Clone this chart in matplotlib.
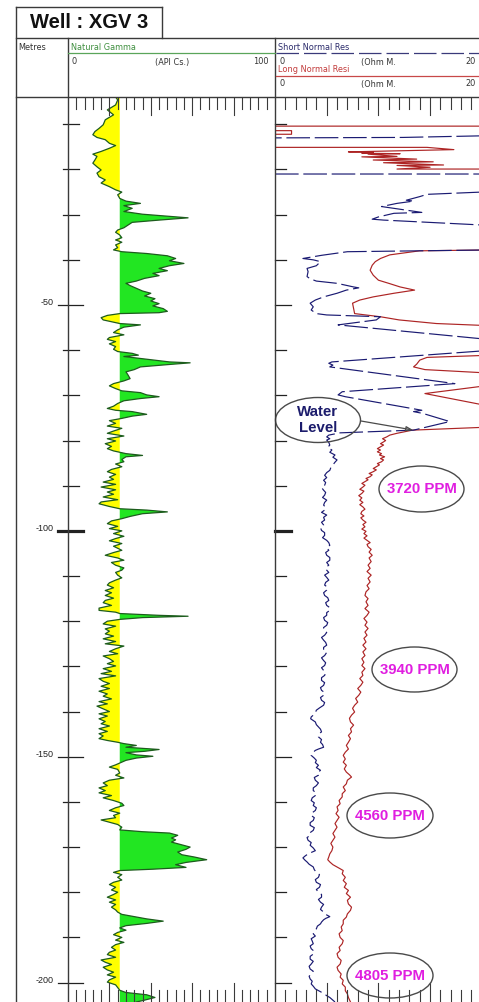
import numpy as np
import matplotlib
matplotlib.use("Agg")
import matplotlib.pyplot as plt
from matplotlib.patches import Ellipse, Rectangle
from matplotlib.lines import Line2D
import matplotlib.transforms as mtransforms
from matplotlib import font_manager

nan = float("nan")

# ---------------------------------------------------------------- data
title = "Well : XGV 3"
depth_unit = "Metres"
gamma_name = "Natural Gamma"
gamma_unit = "(API Cs.)"
gamma_scale = (0, 100)
gamma_cutoff = 25
sn_name = "Short Normal Res"
ln_name = "Long Normal Resi"
res_unit = "(Ohm M."
res_scale = (0, 20)
depth_labels = [-50, -100, -150, -200]
annotation_texts = ["Water\nLevel", "3720 PPM", "3940 PPM", "4560 PPM", "4805 PPM"]

gamma_depth = [
    -3.95, -4.6, -5.7, -6.8, -7.9, -9.0, -10.1, -10.9, -11.6, -12.3,
    -12.9, -13.4, -14.2, -14.7, -15.3, -16.0, -16.6, -17.1, -17.9, -18.6,
    -19.4, -20.1, -20.8, -21.6, -22.3, -23.0, -23.8, -24.5, -25.0, -25.6,
    -26.4, -27.0, -27.5, -28.0, -28.6, -29.3, -29.9, -30.7, -31.2, -31.7,
    -32.3, -32.9, -33.4, -33.9, -34.5, -35.1, -35.6, -36.1, -36.7, -37.3,
    -37.8, -38.2, -38.6, -39.1, -39.7, -40.2, -40.8, -41.3, -41.9, -42.4,
    -43.0, -43.5, -44.1, -44.7, -45.2, -45.7, -46.3, -46.9, -47.4, -48.0,
    -48.6, -49.1, -49.7, -50.2, -50.8, -51.4, -51.7, -51.9, -52.3, -52.8,
    -53.3, -54.1, -54.4, -54.9, -55.5, -56.1, -56.6, -57.2, -57.6, -58.1,
    -58.6, -59.2, -59.8, -60.3, -60.7, -61.1, -61.4, -62.0, -62.6, -62.8,
    -63.2, -63.7, -64.3, -64.8, -65.5, -66.3, -66.8, -67.4, -67.9, -68.5,
    -69.0, -69.4, -69.9, -70.3, -70.7, -71.2, -71.8, -72.4, -72.9, -73.3,
    -73.6, -74.2, -74.6, -75.1, -75.6, -76.2, -76.8, -77.3, -77.9, -78.4,
    -79.0, -79.6, -80.1, -80.7, -81.3, -81.8, -82.3, -82.9, -83.3, -83.6,
    -84.2, -84.7, -85.2, -85.8, -86.4, -86.9, -87.5, -88.1, -88.6, -89.2,
    -89.7, -90.3, -90.9, -91.4, -91.9, -92.5, -93.1, -93.6, -94.0, -94.6,
    -95.1, -95.4, -95.8, -96.2, -96.8, -97.3, -97.8, -98.4, -99.0, -99.5,
    -100.0, -100.6, -101.2, -101.7, -102.2, -102.8, -103.4, -104.3, -104.8, -105.4,
    -106.0, -106.5, -107.0, -107.6, -108.2, -108.7, -109.2, -109.8, -110.4, -110.9,
    -111.5, -112.0, -112.6, -113.2, -113.7, -114.3, -114.9, -115.4, -115.9, -116.5,
    -117.1, -117.6, -118.0, -118.3, -118.7, -118.9, -119.2, -119.6, -120.0, -120.6,
    -121.1, -121.7, -122.2, -122.8, -123.3, -123.9, -124.5, -125.0, -125.5, -126.1,
    -126.7, -127.2, -127.7, -128.3, -128.9, -129.4, -129.9, -130.5, -131.1, -131.6,
    -132.1, -132.7, -133.3, -133.8, -134.4, -134.9, -135.5, -136.1, -136.6, -137.2,
    -137.8, -138.3, -138.8, -139.4, -140.0, -140.5, -141.0, -141.6, -142.2, -142.7,
    -143.2, -143.8, -144.4, -144.9, -145.4, -146.0, -146.4, -146.8, -147.1, -147.5,
    -147.9, -148.4, -148.8, -149.1, -149.6, -149.9, -150.3, -150.8, -151.4, -151.8,
    -152.3, -152.8, -153.6, -154.1, -154.7, -155.2, -155.8, -156.4, -156.9, -157.5,
    -158.0, -158.6, -159.1, -159.7, -160.3, -160.8, -161.3, -161.9, -162.5, -163.0,
    -163.5, -164.0, -164.5, -165.0, -165.6, -166.2, -166.6, -166.9, -167.4, -168.0,
    -168.4, -168.9, -169.4, -170.0, -170.5, -171.1, -171.7, -172.2, -172.8, -173.4,
    -173.9, -174.5, -174.9, -175.2, -175.6, -176.1, -176.7, -177.3, -177.8, -178.3,
    -178.9, -179.5, -180.0, -180.5, -181.1, -181.7, -182.2, -182.7, -183.3, -183.9,
    -184.4, -184.9, -185.4, -185.9, -186.4, -186.9, -187.4, -187.9, -188.4, -188.9,
    -189.4, -190.0, -190.6, -191.1, -191.6, -192.2, -192.8, -193.3, -193.8, -194.4,
    -195.0, -195.5, -196.0, -196.6, -197.2, -197.7, -198.3, -198.8, -199.4, -199.9,
    -200.5, -201.1, -201.7, -202.2, -202.7, -203.3, -204.0, -204.3,
]
gamma_api = [
    23, 24, 23, 19, 22, 18, 17, 15, 13, 12,
    14, 18, 20, 23, 20, 16, 12, 14, 13, 12,
    14, 16, 14, 15, 18, 16, 20, 23, 26, 24,
    25, 28, 35, 27, 31, 27, 36, 58, 44, 31,
    29, 27, 24, 23, 25, 26, 23, 26, 23, 24,
    22, 26, 38, 48, 52, 49, 56, 49, 44, 48,
    41, 44, 37, 33, 28, 30, 33, 36, 40, 37,
    42, 40, 44, 41, 46, 48, 44, 25, 19, 16,
    17, 25, 35, 27, 24, 22, 27, 20, 19, 23,
    20, 23, 22, 24, 31, 34, 27, 38, 49, 59,
    48, 35, 32, 28, 29, 30, 27, 22, 20, 23,
    26, 35, 38, 44, 35, 27, 24, 22, 19, 23,
    31, 38, 31, 26, 20, 23, 19, 26, 22, 19,
    27, 19, 23, 18, 21, 19, 22, 28, 36, 28,
    26, 27, 23, 26, 21, 19, 23, 20, 22, 17,
    23, 16, 23, 19, 22, 17, 24, 16, 15, 20,
    25, 38, 48, 36, 30, 26, 21, 19, 24, 20,
    26, 22, 27, 23, 20, 26, 22, 26, 22, 18,
    24, 27, 21, 23, 27, 26, 23, 24, 26, 23,
    20, 19, 22, 18, 21, 18, 22, 18, 17, 21,
    15, 15, 23, 25, 44, 58, 36, 25, 19, 17,
    23, 18, 20, 18, 22, 17, 23, 18, 27, 23,
    20, 24, 17, 20, 22, 19, 23, 17, 21, 16,
    23, 15, 17, 20, 16, 20, 15, 19, 17, 21,
    15, 19, 14, 17, 20, 15, 19, 15, 18, 16,
    20, 15, 19, 15, 17, 15, 19, 24, 27, 33,
    28, 44, 37, 28, 33, 41, 33, 28, 25, 23,
    20, 24, 25, 23, 27, 20, 17, 19, 15, 18,
    15, 21, 17, 22, 26, 27, 23, 20, 25, 22,
    23, 16, 20, 24, 26, 25, 36, 49, 53, 50,
    52, 50, 54, 59, 57, 53, 55, 61, 67, 57,
    52, 57, 41, 25, 22, 26, 24, 26, 22, 20,
    23, 21, 24, 22, 19, 23, 20, 23, 21, 23,
    24, 26, 32, 38, 46, 38, 28, 25, 28, 24,
    22, 26, 23, 27, 23, 21, 23, 20, 19, 23,
    16, 18, 21, 17, 19, 22, 19, 23, 20, 19,
    23, 24, 25, 28, 38, 42, 36, 33,
]

# Long normal resistivity (red); nan = gap, values > 20 run off the track
ln_depth = [
    -10.4, -10.4, nan,
    -11.4, -11.4, -12.2, -12.2, nan,
    -15.1, -15.1, -15.6, -16.1, -16.2, -16.4, -16.5, -16.6, -17.1, -17.2,
    -17.7, -17.9, -18.3, -18.5, -19.0, -19.1, -19.5, -19.9, -19.9, nan,
    -37.8, -38.0, -38.9, -39.7, -40.4, -41.2, -42.3, -43.4, -44.5, -45.2,
    -46.0, -46.7, -47.4, -48.2, -48.9, -49.6, -50.7, -51.9, -52.6, -53.3,
    -54.1, -54.6, nan,
    -61.1, -61.6, -62.2, -63.1, -63.7, -64.3, -65.1, nan,
    -67.7, -69.6, -72.5, nan,
    -77.0, -77.7,
    -78.4, -78.8, -79.2, -79.6, -80.0, -80.3, -80.7, -81.0, -81.4, -81.8,
    -82.1, -82.5, -82.9, -83.2, -83.6, -84.0, -84.3, -84.7, -85.1, -85.4,
    -85.8, -86.2, -86.5, -86.9, -87.3, -87.6, -88.0, -88.4, -88.7, -89.1,
    -89.5, -89.9, -90.3, -90.8, -91.2, -91.7, -92.2, -92.7, -93.2, -93.7,
    -94.2, -94.7, -95.2, -95.7, -96.2, -96.7, -97.1, -97.6, -98.1, -98.6,
    -99.1, -99.6, -100.1, -100.6, -101.1, -101.6, -102.1, -102.6, -103.0, -103.5,
    -104.1, -104.7, -105.4, -106.0, -106.8, -107.6, -108.3, -109.0, -109.8, -110.5,
    -111.3, -112.1, -112.8, -113.5, -114.3, -115.0, -115.7, -116.5, -117.2, -118.0,
    -118.7, -119.4, -120.2, -120.9, -121.6, -122.4, -123.1, -123.8, -124.6, -125.3,
    -126.1, -126.8, -127.6, -128.3, -129.1, -129.8, -130.5, -131.3, -132.0, -132.7,
    -133.5, -134.2, -134.9, -135.7, -136.4, -137.1, -137.9, -138.6, -139.3, -140.1,
    -140.8, -141.5, -142.3, -143.0, -143.8, -144.5, -145.3, -146.0, -146.8, -147.5,
    -148.3, -149.0, -149.7, -150.5, -151.2, -151.9, -152.7, -153.4, -154.0, -154.5,
    -155.2, -156.0, -156.7, -157.5, -158.2, -158.9, -159.7, -160.4, -161.1, -161.9,
    -162.6, -163.4, -164.1, -164.8, -165.6, -166.3, -167.0, -167.8, -168.5, -169.2,
    -170.0, -170.8, -171.5, -172.2, -172.8, -173.3, -173.9, -174.4, -174.8, -175.2,
    -175.9, -176.7, -177.4, -178.1, -178.9, -179.6, -180.3, -181.1, -181.8, -182.6,
    -183.3, -184.0, -184.8, -185.5, -186.2, -187.0, -187.7, -188.5, -189.2, -190.0,
    -190.7, -191.4, -192.2, -192.9, -193.6, -194.4, -195.1, -195.9, -196.6, -197.3,
    -198.1, -198.8, -199.5, -200.3, -201.0, -201.8, -202.5, -203.3, -204.3,
]
ln_ohm = [
    21, 0, nan,
    0, 1.6, 1.6, 0, nan,
    0, 14.7, 17.3, 7.1, 9.5, 8.4, 12.1, 9.0, 11.8, 8.4,
    13.7, 9.5, 15.3, 10.5, 16.3, 11.8, 15.0, 11.8, 21, nan,
    21, 14.0, 11.1, 10.2, 9.7, 9.4, 9.2, 9.5, 10.0, 11.0,
    12.1, 13.5, 11.5, 9.5, 8.2, 7.5, 7.6, 7.7, 10.2, 12.0,
    15.6, 21, nan,
    21, 14.7, 14.0, 13.7, 13.4, 14.5, 21, nan,
    21, 14.5, 21, nan,
    21, 13.3,
    11.8, 11.1, 10.8, 10.4, 10.7, 10.5, 10.2, 10.5, 10.2, 9.9,
    10.2, 9.9, 10.3, 10.1, 10.6, 10.2, 10.5, 10.3, 9.9, 10.1,
    9.8, 9.5, 9.8, 9.5, 9.1, 9.4, 9.2, 8.8, 9.0, 8.7,
    8.4, 8.7, 8.5, 8.2, 8.6, 8.4, 8.1, 8.4, 8.2, 8.5,
    8.2, 8.5, 8.7, 8.4, 8.3, 8.6, 8.3, 8.5, 8.8, 8.5,
    8.7, 8.4, 8.8, 8.6, 8.9, 8.6, 8.9, 9.2, 8.9, 9.0,
    9.3, 9.1, 9.4, 9.1, 9.3, 9.0, 9.2, 8.9, 9.3, 9.0,
    9.2, 8.9, 9.1, 8.8, 8.7, 9.0, 8.8, 9.0, 8.7, 9.1,
    8.9, 8.6, 8.9, 8.7, 9.0, 8.7, 8.9, 8.6, 8.8, 8.5,
    8.8, 8.5, 8.7, 8.4, 8.6, 8.4, 8.7, 8.4, 8.5, 8.2,
    8.5, 8.3, 8.0, 8.3, 8.1, 7.8, 8.0, 7.7, 7.5, 7.7,
    7.4, 7.2, 7.3, 7.6, 7.3, 7.4, 7.1, 7.3, 7.1, 6.9,
    7.1, 6.8, 6.6, 6.8, 6.6, 6.9, 6.7, 6.9, 7.2, 7.4,
    7.0, 6.9, 6.6, 6.8, 6.5, 6.5, 6.2, 6.3, 6.0, 6.1,
    5.9, 6.2, 6.0, 5.8, 6.0, 5.8, 5.6, 5.8, 5.6, 5.4,
    5.6, 5.5, 5.3, 5.2, 5.1, 5.3, 5.6, 6.0, 6.3, 6.6,
    6.5, 6.8, 6.6, 6.9, 6.7, 7.1, 6.9, 7.3, 7.0, 7.1,
    7.4, 7.3, 7.0, 6.9, 6.6, 6.6, 6.4, 6.5, 6.2, 6.3,
    6.6, 6.5, 6.2, 6.3, 6.0, 6.1, 6.4, 6.3, 6.0, 6.1,
    6.4, 6.3, 6.6, 6.5, 6.8, 6.8, 7.0, 7.1, 7.3,
]

# Short normal resistivity (blue, dashed)
sn_depth = [
    -12.5, -12.9, -13.0, nan,
    -21.0, -21.0, nan,
    -24.9, -25.5, -26.0, -26.8, -27.0, -27.5, -28.2, -28.6, -29.5, -29.7,
    -30.5, -31.0, -31.2, -32.4, nan,
    -37.8, -38.2, -39.0, -39.7, -40.0, -40.4, -41.3, -41.9, -42.6, -43.7,
    -44.2, -44.7, -45.2, -46.0, -46.2, -46.7, -47.4, -48.2, -48.9, -49.6,
    -50.4, -51.1, -51.9, -52.2, -52.6, -53.3, -54.4, -57.7, nan,
    -60.0, -62.6, -62.9, -63.3, -63.7, -67.4, -69.2, -69.9, -70.3, -73.3,
    -73.6, -74.0, -75.8, -77.7,
    -78.3, -78.8, -79.2, -79.6, -79.9, -80.4, -81.0, -81.5, -82.1, -82.6,
    -83.2, -83.7, -84.3, -84.8, -85.4, -86.0, -86.6, -87.1, -87.7, -88.2,
    -88.8, -89.3, -89.9, -90.4, -91.0, -91.5, -92.1, -92.6, -93.2, -93.7,
    -94.3, -94.8, -95.4, -95.9, -96.5, -97.0, -97.6, -98.1, -98.7, -99.3,
    -99.9, -100.4, -101.0, -101.5, -102.1, -102.6, -103.2, -103.7, -104.3, -104.8,
    -105.4, -105.9, -106.5, -107.0, -107.6, -108.1, -108.7, -109.2, -109.8, -110.3,
    -110.9, -111.4, -112.0, -112.5, -113.1, -113.7, -114.3, -114.8, -115.4, -115.9,
    -116.5, -117.0, -117.6, -118.1, -118.7, -119.2, -119.8, -120.3, -120.9, -121.4,
    -122.0, -122.5, -123.1, -123.6, -124.2, -124.7, -125.3, -125.8, -126.4, -126.9,
    -127.6, -128.1, -128.7, -129.2, -129.8, -130.3, -130.9, -131.4, -132.0, -132.5,
    -133.1, -133.6, -134.2, -134.7, -135.3, -135.8, -136.4, -136.9, -137.5, -138.0,
    -138.6, -139.2, -139.7, -140.3, -140.8, -141.2, -141.6, -142.0, -142.3, -142.9,
    -143.4, -143.9, -144.5, -145.0, -145.6, -146.2, -146.8, -147.3, -147.9, -148.3,
    -148.6, -149.2, -149.7, -150.3, -150.8, -151.3, -151.9, -152.4, -153.0, -153.6,
    -154.1, -154.6, -155.2, -155.8, -156.4, -156.9, -157.5, -158.0, -158.6, -159.1,
    -159.7, -160.2, -160.8, -161.3, -161.9, -162.4, -163.0, -163.5, -164.1, -164.6,
    -165.2, -165.7, -166.3, -166.8, -167.4, -167.9, -168.5, -169.0, -169.6, -170.2,
    -170.8, -171.2, -171.5, -172.0, -172.4, -172.9, -173.3, -173.8, -174.4, -175.0,
    -175.6, -176.1, -176.7, -177.2, -177.8, -178.3, -178.9, -179.4, -180.0, -180.5,
    -181.1, -181.6, -182.2, -182.7, -183.3, -183.8, -184.4, -184.9, -185.4, -185.8,
    -186.1, -186.6, -187.0, -187.5, -188.1, -188.6, -189.2, -189.7, -190.3, -190.8,
    -191.4, -191.9, -192.5, -193.1, -193.7, -194.2, -194.8, -195.3, -195.9, -196.4,
    -197.0, -197.5, -198.1, -198.6, -199.2, -199.7, -200.3, -200.8, -201.4, -201.9,
    -202.4, -202.9, -203.3, -203.7, -204.3,
]
sn_ohm = [
    21, 12.4, 0, nan,
    0, 21, nan,
    21, 14.7, 14.0, 12.7, 13.4, 11.8, 10.3, 11.5, 14.2, 11.5,
    10.0, 9.4, 10.5, 21, nan,
    21, 7.0, 4.5, 2.7, 3.7, 4.4, 4.0, 3.1, 3.2, 3.1,
    3.4, 4.0, 6.0, 7.6, 8.1, 6.9, 6.0, 4.7, 3.9, 3.4,
    3.7, 3.5, 4.0, 5.0, 10.2, 9.8, 6.1, 21, nan,
    21, 5.5, 5.2, 5.6, 5.3, 17.4, 6.5, 6.1, 6.8, 14.2,
    13.4, 14.3, 16.9, 13.4,
    6.3, 5.2, 5.0, 5.3, 5.0, 5.2, 5.3, 5.1, 5.5, 5.3,
    5.8, 5.6, 6.0, 5.8, 5.6, 5.4, 5.3, 5.0, 4.8, 5.0,
    4.7, 4.9, 4.8, 4.5, 4.7, 4.9, 4.8, 4.6, 5.0, 4.8,
    4.7, 4.9, 4.8, 4.5, 5.0, 4.7, 4.8, 4.5, 4.7, 4.4,
    4.5, 4.8, 4.8, 4.6, 5.0, 5.2, 5.3, 5.0, 5.2, 4.9,
    5.0, 5.3, 5.3, 5.0, 5.2, 4.9, 5.0, 5.2, 4.8, 5.0,
    5.2, 4.9, 4.8, 5.1, 5.0, 4.7, 4.8, 5.1, 5.2, 4.9,
    5.0, 5.3, 5.3, 5.0, 5.0, 4.7, 4.8, 5.1, 5.0, 4.7,
    4.7, 5.0, 4.8, 4.5, 4.7, 4.9, 5.0, 4.7, 4.7, 5.0,
    4.8, 4.5, 4.7, 4.9, 4.8, 4.5, 4.7, 4.9, 4.8, 4.5,
    4.5, 4.8, 4.7, 4.4, 4.5, 4.8, 4.7, 4.4, 4.5, 4.8,
    4.7, 4.3, 4.0, 3.9, 3.7, 3.5, 3.45, 3.7, 3.9, 4.0,
    4.2, 4.4, 4.5, 4.2, 4.2, 4.5, 4.4, 4.6, 4.7, 4.2,
    3.9, 3.6, 3.5, 3.8, 4.0, 3.9, 4.2, 4.0, 4.4, 4.1,
    4.2, 3.8, 3.9, 4.2, 4.0, 3.7, 3.7, 4.0, 3.9, 3.6,
    3.5, 3.8, 3.7, 4.0, 3.9, 3.6, 3.5, 3.8, 3.7, 3.4,
    3.4, 3.8, 3.7, 3.4, 3.4, 3.1, 3.2, 3.5, 3.4, 3.7,
    3.9, 3.5, 3.2, 2.9, 2.7, 2.9, 3.1, 3.3, 3.7, 3.8,
    4.0, 4.3, 4.2, 3.9, 4.0, 4.4, 4.3, 4.0, 4.2, 4.5,
    4.5, 4.2, 4.4, 4.7, 4.5, 4.4, 4.7, 4.9, 5.3, 4.9,
    4.7, 4.5, 4.4, 4.1, 4.0, 3.8, 3.7, 3.9, 3.5, 3.6,
    3.7, 3.4, 3.5, 3.8, 3.7, 3.4, 3.4, 3.7, 3.5, 3.3,
    3.4, 3.7, 3.5, 3.3, 3.4, 3.6, 3.5, 3.7, 3.9, 4.3,
    4.7, 5.0, 5.3, 5.5, 5.8,
]

assert len(gamma_depth) == len(gamma_api)
assert len(ln_depth) == len(ln_ohm)
assert len(sn_depth) == len(sn_ohm)

# ---------------------------------------------------------------- layout
W, H = 479, 1002
TOP, BOT = 97, 1002
DEPTH_TOP, DEPTH_BOT = -3.95, -204.3

names = {f.name for f in font_manager.fontManager.ttflist}
NARROW = "Liberation Sans Narrow" if "Liberation Sans Narrow" in names else None
SANS = "Liberation Sans"

def fx(x):
    return x / W

def fy(y):
    return 1 - y / H

BORDER = "#3a3a3a"
GREEN_FILL = "#22e622"
YELLOW_FILL = "#ffff00"
GAMMA_LINE = "#1d5c1d"
RED = "#ad2424"
BLUE = "#1a1a72"

fig = plt.figure(figsize=(W / 100, H / 100), dpi=100)
fig.patch.set_facecolor("white")

ax_g = fig.add_axes([fx(68), fy(BOT), (275 - 68) / W, (BOT - TOP) / H])
ax_r = fig.add_axes([fx(275), fy(BOT), 206.8 / W, (BOT - TOP) / H])
for ax in (ax_g, ax_r):
    ax.set_ylim(DEPTH_BOT, DEPTH_TOP)
    ax.axis("off")
ax_g.set_xlim(*gamma_scale)
ax_r.set_xlim(*res_scale)

# gamma curve with shading
gd = np.array(gamma_depth)
ga = np.array(gamma_api, dtype=float)
ax_g.fill_betweenx(gd, gamma_cutoff, ga, where=ga >= gamma_cutoff, interpolate=True,
                   facecolor=GREEN_FILL, lw=0)
ax_g.fill_betweenx(gd, gamma_cutoff, ga, where=ga <= gamma_cutoff, interpolate=True,
                   facecolor=YELLOW_FILL, lw=0)
ax_g.plot(ga, gd, color=GAMMA_LINE, lw=0.9)

# resistivity curves
ax_r.plot(ln_ohm, ln_depth, color=RED, lw=0.85)
ax_r.plot(sn_ohm, sn_depth, color=BLUE, lw=0.85, dashes=(20, 4))

# scale rulers at top and bottom of tracks
hpx = BOT - TOP
for ax, ticks, long_every in ((ax_g, np.arange(4, 100, 4), 20), (ax_r, np.arange(1, 20, 1), 5)):
    tr = ax.get_xaxis_transform()
    for t in ticks:
        L = 18 if t % long_every == 0 else 12
        ax.plot([t, t], [1 - 1.0 / hpx, 1 - L / hpx], transform=tr, color=BORDER, lw=0.8,
                clip_on=False)
        L2 = 19 if t % long_every == 0 else 12
        ax.plot([t, t], [0, L2 / hpx], transform=tr, color=BORDER, lw=0.8, clip_on=False)

# depth ticks
trans_d = mtransforms.blended_transform_factory(fig.transFigure, ax_g.transData)
for d in np.arange(-10, -201, -10):
    big = d % 50 == 0
    lw = 2.3 if d == -100 else 0.9
    x0, x1 = (58, 83) if big else (63, 79)
    fig.add_artist(Line2D([fx(x0), fx(x1)], [d, d], transform=trans_d, color="#222222", lw=lw))
    r1 = 291 if big else 286
    fig.add_artist(Line2D([fx(275), fx(r1)], [d, d], transform=trans_d, color="#222222", lw=lw))

lab_tr = mtransforms.offset_copy(trans_d, fig=fig, x=0, y=2.5, units="dots")
for d in depth_labels:
    fig.text(fx(54), d, f"{d}", transform=lab_tr, ha="right", va="center",
             fontsize=6.5, family=SANS, color="#222222")

# frame lines
def hline(y, x0, x1, **kw):
    fig.add_artist(Line2D([fx(x0), fx(x1)], [fy(y), fy(y)], **kw))

def vline(x, y0, y1, **kw):
    fig.add_artist(Line2D([fx(x), fx(x)], [fy(y0), fy(y1)], **kw))

fkw = dict(color=BORDER, lw=1.0)
hline(7, 16, 162, **fkw)
vline(162, 7, 38, **fkw)
vline(16, 7, 1002, **fkw)
hline(38, 16, 479, **fkw)
hline(97, 16, 479, **fkw)
vline(68, 38, 1002, **fkw)
vline(275, 38, 1002, **fkw)

# title
fig.text(fx(89), fy(23), title, ha="center", va="center", fontsize=14.5,
         fontweight="bold", family=SANS, color="#111111")

# header texts
hs = 5.9
hfam = "DejaVu Sans"
fig.text(fx(18), fy(48), depth_unit, ha="left", va="center", fontsize=hs, family=hfam, color="#333333")
fig.text(fx(71), fy(48), gamma_name, ha="left", va="center", fontsize=hs, family=hfam, color="#3f8f3f")
hline(53, 68, 275, color="#5aa55a", lw=0.9)
fig.text(fx(72), fy(62), f"{gamma_scale[0]}", ha="left", va="center", fontsize=hs, family=hfam, color="#333333")
fig.text(fx(172), fy(62), gamma_unit, ha="center", va="center", fontsize=hs, family=hfam, color="#333333")
fig.text(fx(269), fy(62), f"{gamma_scale[1]}", ha="right", va="center", fontsize=hs, family=hfam, color="#333333")

fig.text(fx(278), fy(48), sn_name, ha="left", va="center", fontsize=hs, family=hfam, color="#2b2b6b")
fig.add_artist(Line2D([fx(276), fx(479)], [fy(53), fy(53)], color="#3a3a7a", lw=0.9, dashes=(18, 4)))
fig.text(fx(279), fy(62), f"{res_scale[0]}", ha="left", va="center", fontsize=hs, family=hfam, color="#333333")
fig.text(fx(378), fy(62), res_unit, ha="center", va="center", fontsize=hs, family=hfam, color="#333333")
fig.text(fx(465), fy(62), f"{res_scale[1]}", ha="left", va="center", fontsize=hs, family=hfam, color="#333333")

fig.text(fx(278), fy(70), ln_name, ha="left", va="center", fontsize=hs, family=hfam, color="#c23b3b")
hline(76, 276, 479, color="#c84848", lw=0.9)
fig.text(fx(279), fy(84), f"{res_scale[0]}", ha="left", va="center", fontsize=hs, family=hfam, color="#333333")
fig.text(fx(378), fy(84), res_unit, ha="center", va="center", fontsize=hs, family=hfam, color="#333333")
fig.text(fx(465), fy(84), f"{res_scale[1]}", ha="left", va="center", fontsize=hs, family=hfam, color="#333333")

# annotation bubbles
bubbles = [  # (cx, cy, w, h, color)
    (318, 420, 85, 45, "#1c1c6c"),
    (421.5, 489, 85, 46, "#e01ee0"),
    (414.5, 669.5, 85, 45, "#e01ee0"),
    (390, 815.5, 86, 45, "#e01ee0"),
    (390, 975.5, 86, 45, "#e01ee0"),
]
afam = [NARROW, SANS] if NARROW else [SANS]
asize = 12.5 if NARROW else 10.8
for text, (cx, cy, w, h, col) in zip(annotation_texts, bubbles):
    fig.add_artist(Ellipse((fx(cx), fy(cy)), w / W, h / H, transform=fig.transFigure,
                           facecolor="none", edgecolor="#4a4a4a", lw=1.0))
    fig.text(fx(cx), fy(cy), text, ha="center", va="center", fontsize=asize,
             fontweight="bold", family=afam, color=col, linespacing=1.2)

fig.add_artist(matplotlib.patches.FancyArrowPatch(
    (fx(361), fy(421)), (fx(413), fy(430)), transform=fig.transFigure,
    arrowstyle="-|>,head_length=4,head_width=1.5", color="#4a4a4a", lw=0.9,
    shrinkA=0, shrinkB=0, mutation_scale=1, fill=False))

fig.savefig("out.png", dpi=100, facecolor="white")
